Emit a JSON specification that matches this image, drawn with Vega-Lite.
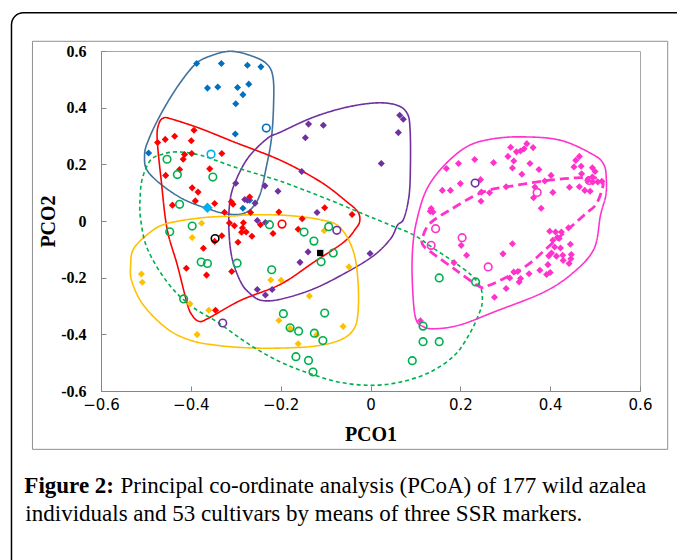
{
  "$schema": "https://vega.github.io/schema/vega-lite/v6.json",
  "width": 539,
  "height": 340,
  "autosize": "none",
  "padding": {"left": 101, "top": 51, "right": 37, "bottom": 169},
  "background": "white",
  "config": {
    "view": {"stroke": "#a6a6a6", "strokeWidth": 1},
    "font": "Liberation Serif"
  },
  "datasets": {
    "pts": [
      {"c":"blue","t":"d","x":-0.387,"y":0.556},{"c":"blue","t":"d","x":-0.332,"y":0.556},{"c":"blue","t":"d","x":-0.274,"y":0.550},{"c":"blue","t":"d","x":-0.244,"y":0.544},{"c":"blue","t":"d","x":-0.363,"y":0.469},{"c":"blue","t":"d","x":-0.340,"y":0.473},{"c":"blue","t":"d","x":-0.296,"y":0.471},{"c":"blue","t":"d","x":-0.271,"y":0.483},{"c":"blue","t":"d","x":-0.284,"y":0.446},{"c":"blue","t":"d","x":-0.300,"y":0.414},{"c":"blue","t":"d","x":-0.301,"y":0.307},{"c":"blue","t":"d","x":-0.494,"y":0.240},{"c":"blue","t":"d","x":-0.284,"y":0.045},{"c":"blue","t":"d","x":-0.269,"y":0.073},
      {"c":"red","t":"d","x":-0.474,"y":0.277},{"c":"red","t":"d","x":-0.457,"y":0.288},{"c":"red","t":"d","x":-0.436,"y":0.299},{"c":"red","t":"d","x":-0.393,"y":0.320},{"c":"red","t":"d","x":-0.399,"y":0.283},{"c":"red","t":"d","x":-0.414,"y":0.235},{"c":"red","t":"d","x":-0.417,"y":0.218},{"c":"red","t":"d","x":-0.398,"y":0.238},{"c":"red","t":"d","x":-0.331,"y":0.238},{"c":"red","t":"d","x":-0.456,"y":0.161},{"c":"red","t":"d","x":-0.425,"y":0.182},{"c":"red","t":"d","x":-0.358,"y":0.184},{"c":"red","t":"d","x":-0.397,"y":0.117},{"c":"red","t":"d","x":-0.384,"y":0.102},{"c":"red","t":"d","x":-0.441,"y":0.056},{"c":"red","t":"d","x":-0.390,"y":0.071},{"c":"red","t":"d","x":-0.347,"y":0.062},{"c":"red","t":"d","x":-0.310,"y":0.068},{"c":"red","t":"d","x":-0.306,"y":0.059},{"c":"red","t":"d","x":-0.269,"y":0.085},{"c":"red","t":"d","x":-0.325,"y":0.031},{"c":"red","t":"d","x":-0.267,"y":0.030},{"c":"red","t":"d","x":-0.204,"y":0.032},{"c":"red","t":"d","x":-0.102,"y":0.047},{"c":"red","t":"d","x":-0.041,"y":0.023},{"c":"red","t":"d","x":-0.152,"y":0.008},{"c":"red","t":"d","x":-0.161,"y":-0.029},{"c":"red","t":"d","x":-0.314,"y":-0.007},{"c":"red","t":"d","x":-0.303,"y":-0.017},{"c":"red","t":"d","x":-0.283,"y":-0.006},{"c":"red","t":"d","x":-0.285,"y":-0.025},{"c":"red","t":"d","x":-0.277,"y":-0.039},{"c":"red","t":"d","x":-0.287,"y":-0.040},{"c":"red","t":"d","x":-0.245,"y":-0.013},{"c":"red","t":"d","x":-0.217,"y":-0.044},{"c":"red","t":"d","x":-0.264,"y":-0.054},{"c":"red","t":"d","x":-0.295,"y":-0.075},{"c":"red","t":"d","x":-0.331,"y":-0.052},{"c":"red","t":"d","x":-0.347,"y":-0.072},{"c":"red","t":"d","x":-0.372,"y":-0.096},{"c":"red","t":"d","x":-0.410,"y":-0.167},{"c":"red","t":"d","x":-0.365,"y":-0.191},{"c":"red","t":"d","x":-0.309,"y":-0.178},{"c":"red","t":"d","x":-0.345,"y":-0.315},
      {"c":"purple","t":"d","x":-0.138,"y":0.342},{"c":"purple","t":"d","x":-0.105,"y":0.338},{"c":"purple","t":"d","x":-0.145,"y":0.294},{"c":"purple","t":"d","x":0.065,"y":0.373},{"c":"purple","t":"d","x":0.073,"y":0.359},{"c":"purple","t":"d","x":0.062,"y":0.312},{"c":"purple","t":"d","x":0.024,"y":0.203},{"c":"purple","t":"d","x":-0.153,"y":0.175},{"c":"purple","t":"d","x":-0.119,"y":0.030},{"c":"purple","t":"d","x":-0.300,"y":0.133},{"c":"purple","t":"d","x":-0.235,"y":0.124},{"c":"purple","t":"d","x":-0.206,"y":0.105},{"c":"purple","t":"d","x":-0.280,"y":0.076},{"c":"purple","t":"d","x":-0.274,"y":0.073},{"c":"purple","t":"d","x":-0.257,"y":0.063},{"c":"purple","t":"d","x":-0.252,"y":0.002},{"c":"purple","t":"d","x":-0.234,"y":-0.005},{"c":"purple","t":"d","x":-0.139,"y":-0.109},{"c":"purple","t":"d","x":-0.157,"y":-0.146},{"c":"purple","t":"d","x":-0.001,"y":-0.115},{"c":"purple","t":"d","x":-0.252,"y":-0.242},{"c":"purple","t":"d","x":-0.234,"y":-0.261},{"c":"purple","t":"d","x":-0.219,"y":-0.242},
      {"c":"orange","t":"d","x":-0.376,"y":-0.008},{"c":"orange","t":"d","x":-0.397,"y":-0.058},{"c":"orange","t":"d","x":-0.510,"y":-0.187},{"c":"orange","t":"d","x":-0.508,"y":-0.216},{"c":"orange","t":"d","x":-0.222,"y":-0.208},{"c":"orange","t":"d","x":-0.199,"y":-0.209},{"c":"orange","t":"d","x":-0.048,"y":-0.162},{"c":"orange","t":"d","x":-0.103,"y":-0.034},{"c":"orange","t":"d","x":-0.136,"y":-0.265},{"c":"orange","t":"d","x":-0.402,"y":-0.292},{"c":"orange","t":"d","x":-0.360,"y":-0.315},{"c":"orange","t":"d","x":-0.204,"y":-0.351},{"c":"orange","t":"d","x":-0.061,"y":-0.372},{"c":"orange","t":"d","x":-0.386,"y":-0.401},{"c":"orange","t":"d","x":-0.179,"y":-0.379},{"c":"orange","t":"d","x":-0.161,"y":-0.433},{"c":"orange","t":"d","x":-0.120,"y":-0.402},
      {"c":"magenta","t":"d","x":0.312,"y":0.260},{"c":"magenta","t":"d","x":0.325,"y":0.244},{"c":"magenta","t":"d","x":0.334,"y":0.247},{"c":"magenta","t":"d","x":0.342,"y":0.255},{"c":"magenta","t":"d","x":0.348,"y":0.273},{"c":"magenta","t":"d","x":0.362,"y":0.259},{"c":"magenta","t":"d","x":0.306,"y":0.228},{"c":"magenta","t":"d","x":0.319,"y":0.212},{"c":"magenta","t":"d","x":0.316,"y":0.187},{"c":"magenta","t":"d","x":0.355,"y":0.203},{"c":"magenta","t":"d","x":0.375,"y":0.182},{"c":"magenta","t":"d","x":0.337,"y":0.165},{"c":"magenta","t":"d","x":0.232,"y":0.217},{"c":"magenta","t":"d","x":0.274,"y":0.206},{"c":"magenta","t":"d","x":0.169,"y":0.185},{"c":"magenta","t":"d","x":0.196,"y":0.203},{"c":"magenta","t":"d","x":0.160,"y":0.108},{"c":"magenta","t":"d","x":0.178,"y":0.108},{"c":"magenta","t":"d","x":0.200,"y":0.132},{"c":"magenta","t":"d","x":0.245,"y":0.146},{"c":"magenta","t":"d","x":0.247,"y":0.102},{"c":"magenta","t":"d","x":0.265,"y":0.100},{"c":"magenta","t":"d","x":0.246,"y":0.070},{"c":"magenta","t":"d","x":0.302,"y":0.121},{"c":"magenta","t":"d","x":0.366,"y":0.120},{"c":"magenta","t":"d","x":0.363,"y":0.082},{"c":"magenta","t":"d","x":0.388,"y":0.141},{"c":"magenta","t":"d","x":0.402,"y":0.161},{"c":"magenta","t":"d","x":0.406,"y":0.101},{"c":"magenta","t":"d","x":0.380,"y":0.045},{"c":"magenta","t":"d","x":0.465,"y":0.228},{"c":"magenta","t":"d","x":0.457,"y":0.214},{"c":"magenta","t":"d","x":0.453,"y":0.191},{"c":"magenta","t":"d","x":0.469,"y":0.193},{"c":"magenta","t":"d","x":0.470,"y":0.167},{"c":"magenta","t":"d","x":0.494,"y":0.188},{"c":"magenta","t":"d","x":0.500,"y":0.175},{"c":"magenta","t":"d","x":0.494,"y":0.155},{"c":"magenta","t":"d","x":0.443,"y":0.119},{"c":"magenta","t":"d","x":0.465,"y":0.121},{"c":"magenta","t":"d","x":0.477,"y":0.108},{"c":"magenta","t":"d","x":0.489,"y":0.105},{"c":"magenta","t":"d","x":0.484,"y":0.144},{"c":"magenta","t":"d","x":0.495,"y":0.138},{"c":"magenta","t":"d","x":0.506,"y":0.138},{"c":"magenta","t":"d","x":0.515,"y":0.140},{"c":"magenta","t":"d","x":0.135,"y":0.044},{"c":"magenta","t":"d","x":0.139,"y":0.032},{"c":"magenta","t":"d","x":0.133,"y":0.034},{"c":"magenta","t":"d","x":0.202,"y":-0.086},{"c":"magenta","t":"d","x":0.214,"y":-0.121},{"c":"magenta","t":"d","x":0.186,"y":-0.147},{"c":"magenta","t":"d","x":0.295,"y":-0.116},{"c":"magenta","t":"d","x":0.316,"y":-0.080},{"c":"magenta","t":"d","x":0.399,"y":-0.036},{"c":"magenta","t":"d","x":0.412,"y":-0.039},{"c":"magenta","t":"d","x":0.425,"y":-0.039},{"c":"magenta","t":"d","x":0.441,"y":-0.024},{"c":"magenta","t":"d","x":0.416,"y":-0.058},{"c":"magenta","t":"d","x":0.406,"y":-0.068},{"c":"magenta","t":"d","x":0.420,"y":-0.062},{"c":"magenta","t":"d","x":0.410,"y":-0.092},{"c":"magenta","t":"d","x":0.423,"y":-0.095},{"c":"magenta","t":"d","x":0.445,"y":-0.082},{"c":"magenta","t":"d","x":0.403,"y":-0.113},{"c":"magenta","t":"d","x":0.414,"y":-0.124},{"c":"magenta","t":"d","x":0.428,"y":-0.121},{"c":"magenta","t":"d","x":0.447,"y":-0.118},{"c":"magenta","t":"d","x":0.429,"y":-0.139},{"c":"magenta","t":"d","x":0.442,"y":-0.150},{"c":"magenta","t":"d","x":0.446,"y":-0.133},{"c":"magenta","t":"d","x":0.397,"y":-0.123},{"c":"magenta","t":"d","x":0.395,"y":-0.154},{"c":"magenta","t":"d","x":0.377,"y":-0.174},{"c":"magenta","t":"d","x":0.392,"y":-0.189},{"c":"magenta","t":"d","x":0.400,"y":-0.182},{"c":"magenta","t":"d","x":0.353,"y":-0.186},{"c":"magenta","t":"d","x":0.319,"y":-0.180},{"c":"magenta","t":"d","x":0.328,"y":-0.178},{"c":"magenta","t":"d","x":0.310,"y":-0.201},{"c":"magenta","t":"d","x":0.334,"y":-0.203},{"c":"magenta","t":"d","x":0.331,"y":-0.215},{"c":"magenta","t":"d","x":0.302,"y":-0.238},{"c":"magenta","t":"d","x":0.276,"y":-0.269},{"c":"magenta","t":"d","x":0.111,"y":-0.352},
      {"c":"lightblue","t":"D","x":-0.363,"y":0.047},
      {"c":"blue","t":"o","x":-0.232,"y":0.328},{"c":"lightblue","t":"o","x":-0.355,"y":0.236},{"c":"red","t":"o","x":-0.197,"y":-0.011},{"c":"purple","t":"o","x":-0.075,"y":-0.033},{"c":"purple","t":"o","x":-0.329,"y":-0.360},{"c":"purple","t":"o","x":0.233,"y":0.134},{"c":"black","t":"o","x":-0.346,"y":-0.062},
      {"c":"magenta","t":"o","x":0.145,"y":-0.027},{"c":"magenta","t":"o","x":0.204,"y":-0.059},{"c":"magenta","t":"o","x":0.135,"y":-0.086},{"c":"magenta","t":"o","x":0.262,"y":-0.162},{"c":"magenta","t":"o","x":0.371,"y":0.101},{"c":"magenta","t":"o","x":0.487,"y":0.143},
      {"c":"green","t":"o","x":-0.453,"y":0.218},{"c":"green","t":"o","x":-0.430,"y":0.164},{"c":"green","t":"o","x":-0.351,"y":0.155},{"c":"green","t":"o","x":-0.425,"y":0.059},{"c":"green","t":"o","x":-0.397,"y":-0.018},{"c":"green","t":"o","x":-0.447,"y":-0.038},{"c":"green","t":"o","x":-0.377,"y":-0.145},{"c":"green","t":"o","x":-0.363,"y":-0.150},{"c":"green","t":"o","x":-0.297,"y":-0.149},{"c":"green","t":"o","x":-0.225,"y":-0.013},{"c":"green","t":"o","x":-0.148,"y":-0.039},{"c":"green","t":"o","x":-0.126,"y":-0.071},{"c":"green","t":"o","x":-0.093,"y":-0.020},{"c":"green","t":"o","x":-0.083,"y":-0.113},{"c":"green","t":"o","x":-0.110,"y":-0.144},{"c":"green","t":"o","x":-0.220,"y":-0.172},{"c":"green","t":"o","x":-0.416,"y":-0.275},{"c":"green","t":"o","x":-0.194,"y":-0.327},{"c":"green","t":"o","x":-0.102,"y":-0.325},{"c":"green","t":"o","x":-0.179,"y":-0.377},{"c":"green","t":"o","x":-0.160,"y":-0.389},{"c":"green","t":"o","x":-0.125,"y":-0.396},{"c":"green","t":"o","x":-0.106,"y":-0.422},{"c":"green","t":"o","x":-0.166,"y":-0.479},{"c":"green","t":"o","x":-0.138,"y":-0.492},{"c":"green","t":"o","x":-0.128,"y":-0.533},{"c":"green","t":"o","x":0.153,"y":-0.201},{"c":"green","t":"o","x":0.117,"y":-0.371},{"c":"green","t":"o","x":0.117,"y":-0.426},{"c":"green","t":"o","x":0.153,"y":-0.426},{"c":"green","t":"o","x":0.093,"y":-0.493},{"c":"green","t":"o","x":0.234,"y":-0.215},
      {"c":"black","t":"s","x":-0.112,"y":-0.113}
    ],
    "curves": [
      {"k":"blue","i":0,"x":-0.312,"y":0.599},{"k":"blue","i":1,"x":-0.269,"y":0.585},{"k":"blue","i":2,"x":-0.232,"y":0.556},{"k":"blue","i":3,"x":-0.217,"y":0.507},{"k":"blue","i":4,"x":-0.216,"y":0.401},{"k":"blue","i":5,"x":-0.221,"y":0.285},{"k":"blue","i":6,"x":-0.232,"y":0.190},{"k":"blue","i":7,"x":-0.245,"y":0.098},{"k":"blue","i":8,"x":-0.262,"y":0.049},{"k":"blue","i":9,"x":-0.284,"y":0.026},{"k":"blue","i":10,"x":-0.314,"y":0.024},{"k":"blue","i":11,"x":-0.352,"y":0.038},{"k":"blue","i":12,"x":-0.425,"y":0.084},{"k":"blue","i":13,"x":-0.492,"y":0.167},{"k":"blue","i":14,"x":-0.503,"y":0.232},{"k":"blue","i":15,"x":-0.492,"y":0.295},{"k":"blue","i":16,"x":-0.462,"y":0.391},{"k":"blue","i":17,"x":-0.425,"y":0.485},{"k":"blue","i":18,"x":-0.388,"y":0.556},{"k":"blue","i":19,"x":-0.352,"y":0.585},
      {"k":"red","i":0,"x":-0.460,"y":0.364},{"k":"red","i":1,"x":-0.441,"y":0.359},{"k":"red","i":2,"x":-0.378,"y":0.326},{"k":"red","i":3,"x":-0.304,"y":0.279},{"k":"red","i":4,"x":-0.200,"y":0.214},{"k":"red","i":5,"x":-0.111,"y":0.138},{"k":"red","i":6,"x":-0.052,"y":0.067},{"k":"red","i":7,"x":-0.028,"y":0.032},{"k":"red","i":8,"x":-0.024,"y":-0.001},{"k":"red","i":9,"x":-0.033,"y":-0.027},{"k":"red","i":10,"x":-0.059,"y":-0.074},{"k":"red","i":11,"x":-0.126,"y":-0.145},{"k":"red","i":12,"x":-0.200,"y":-0.223},{"k":"red","i":13,"x":-0.289,"y":-0.280},{"k":"red","i":14,"x":-0.363,"y":-0.345},{"k":"red","i":15,"x":-0.382,"y":-0.354},{"k":"red","i":16,"x":-0.397,"y":-0.333},{"k":"red","i":17,"x":-0.408,"y":-0.292},{"k":"red","i":18,"x":-0.430,"y":-0.156},{"k":"red","i":19,"x":-0.453,"y":-0.027},{"k":"red","i":20,"x":-0.466,"y":0.144},{"k":"red","i":21,"x":-0.475,"y":0.291},{"k":"red","i":22,"x":-0.471,"y":0.344},
      {"k":"purple","i":0,"x":0.015,"y":0.417},{"k":"purple","i":1,"x":0.060,"y":0.408},{"k":"purple","i":2,"x":0.082,"y":0.379},{"k":"purple","i":3,"x":0.088,"y":0.326},{"k":"purple","i":4,"x":0.089,"y":0.208},{"k":"purple","i":5,"x":0.086,"y":0.091},{"k":"purple","i":6,"x":0.074,"y":0.008},{"k":"purple","i":7,"x":0.060,"y":-0.015},{"k":"purple","i":8,"x":0.045,"y":-0.062},{"k":"purple","i":9,"x":0.008,"y":-0.121},{"k":"purple","i":10,"x":-0.052,"y":-0.180},{"k":"purple","i":11,"x":-0.126,"y":-0.239},{"k":"purple","i":12,"x":-0.200,"y":-0.276},{"k":"purple","i":13,"x":-0.243,"y":-0.280},{"k":"purple","i":14,"x":-0.269,"y":-0.255},{"k":"purple","i":15,"x":-0.289,"y":-0.215},{"k":"purple","i":16,"x":-0.308,"y":-0.133},{"k":"purple","i":17,"x":-0.315,"y":-0.039},{"k":"purple","i":18,"x":-0.314,"y":0.055},{"k":"purple","i":19,"x":-0.304,"y":0.126},{"k":"purple","i":20,"x":-0.274,"y":0.220},{"k":"purple","i":21,"x":-0.230,"y":0.291},{"k":"purple","i":22,"x":-0.200,"y":0.314},{"k":"purple","i":23,"x":-0.126,"y":0.367},{"k":"purple","i":24,"x":-0.052,"y":0.402},
      {"k":"orange","i":0,"x":-0.527,"y":-0.097},{"k":"orange","i":1,"x":-0.490,"y":-0.039},{"k":"orange","i":2,"x":-0.453,"y":-0.009},{"k":"orange","i":3,"x":-0.378,"y":0.011},{"k":"orange","i":4,"x":-0.304,"y":0.018},{"k":"orange","i":5,"x":-0.269,"y":0.022},{"k":"orange","i":6,"x":-0.188,"y":0.020},{"k":"orange","i":7,"x":-0.113,"y":0.005},{"k":"orange","i":8,"x":-0.069,"y":-0.021},{"k":"orange","i":9,"x":-0.039,"y":-0.103},{"k":"orange","i":10,"x":-0.028,"y":-0.209},{"k":"orange","i":11,"x":-0.028,"y":-0.327},{"k":"orange","i":12,"x":-0.039,"y":-0.386},{"k":"orange","i":13,"x":-0.069,"y":-0.421},{"k":"orange","i":14,"x":-0.121,"y":-0.441},{"k":"orange","i":15,"x":-0.188,"y":-0.448},{"k":"orange","i":16,"x":-0.267,"y":-0.448},{"k":"orange","i":17,"x":-0.341,"y":-0.439},{"k":"orange","i":18,"x":-0.401,"y":-0.421},{"k":"orange","i":19,"x":-0.453,"y":-0.380},{"k":"orange","i":20,"x":-0.505,"y":-0.298},{"k":"orange","i":21,"x":-0.531,"y":-0.215},{"k":"orange","i":22,"x":-0.534,"y":-0.156},
      {"k":"green","i":0,"x":-0.430,"y":0.244},{"k":"green","i":1,"x":-0.378,"y":0.232},{"k":"green","i":2,"x":-0.304,"y":0.191},{"k":"green","i":3,"x":-0.200,"y":0.140},{"k":"green","i":4,"x":-0.089,"y":0.073},{"k":"green","i":5,"x":-0.015,"y":0.024},{"k":"green","i":6,"x":0.045,"y":-0.015},{"k":"green","i":7,"x":0.097,"y":-0.050},{"k":"green","i":8,"x":0.141,"y":-0.097},{"k":"green","i":9,"x":0.186,"y":-0.145},{"k":"green","i":10,"x":0.225,"y":-0.192},{"k":"green","i":11,"x":0.245,"y":-0.234},{"k":"green","i":12,"x":0.249,"y":-0.280},{"k":"green","i":13,"x":0.243,"y":-0.322},{"k":"green","i":14,"x":0.221,"y":-0.397},{"k":"green","i":15,"x":0.187,"y":-0.474},{"k":"green","i":16,"x":0.132,"y":-0.534},{"k":"green","i":17,"x":0.065,"y":-0.569},{"k":"green","i":18,"x":0.000,"y":-0.580},{"k":"green","i":19,"x":-0.069,"y":-0.569},{"k":"green","i":20,"x":-0.136,"y":-0.538},{"k":"green","i":21,"x":-0.200,"y":-0.498},{"k":"green","i":22,"x":-0.267,"y":-0.439},{"k":"green","i":23,"x":-0.341,"y":-0.357},{"k":"green","i":24,"x":-0.401,"y":-0.298},{"k":"green","i":25,"x":-0.453,"y":-0.215},{"k":"green","i":26,"x":-0.497,"y":-0.097},{"k":"green","i":27,"x":-0.512,"y":0.010},{"k":"green","i":28,"x":-0.513,"y":0.080},{"k":"green","i":29,"x":-0.508,"y":0.150},{"k":"green","i":30,"x":-0.490,"y":0.214},{"k":"green","i":31,"x":-0.465,"y":0.235},
      {"k":"magenta","i":0,"x":0.334,"y":0.297},{"k":"magenta","i":1,"x":0.423,"y":0.285},{"k":"magenta","i":2,"x":0.498,"y":0.232},{"k":"magenta","i":3,"x":0.520,"y":0.197},{"k":"magenta","i":4,"x":0.525,"y":0.150},{"k":"magenta","i":5,"x":0.524,"y":0.091},{"k":"magenta","i":6,"x":0.512,"y":0.020},{"k":"magenta","i":7,"x":0.498,"y":-0.097},{"k":"magenta","i":8,"x":0.453,"y":-0.180},{"k":"magenta","i":9,"x":0.386,"y":-0.251},{"k":"magenta","i":10,"x":0.275,"y":-0.321},{"k":"magenta","i":11,"x":0.201,"y":-0.366},{"k":"magenta","i":12,"x":0.149,"y":-0.380},{"k":"magenta","i":13,"x":0.119,"y":-0.374},{"k":"magenta","i":14,"x":0.100,"y":-0.340},{"k":"magenta","i":15,"x":0.093,"y":-0.209},{"k":"magenta","i":16,"x":0.094,"y":-0.093},{"k":"magenta","i":17,"x":0.103,"y":0.002},{"k":"magenta","i":18,"x":0.124,"y":0.108},{"k":"magenta","i":19,"x":0.161,"y":0.191},{"k":"magenta","i":20,"x":0.213,"y":0.261},{"k":"magenta","i":21,"x":0.265,"y":0.288},
      {"k":"magentaDash","i":0,"x":0.116,"y":-0.058},{"k":"magentaDash","i":1,"x":0.132,"y":-0.009},{"k":"magentaDash","i":2,"x":0.176,"y":0.038},{"k":"magentaDash","i":3,"x":0.250,"y":0.102},{"k":"magentaDash","i":4,"x":0.325,"y":0.126},{"k":"magentaDash","i":5,"x":0.399,"y":0.144},{"k":"magentaDash","i":6,"x":0.466,"y":0.153},{"k":"magentaDash","i":7,"x":0.503,"y":0.151},{"k":"magentaDash","i":8,"x":0.518,"y":0.132},{"k":"magentaDash","i":9,"x":0.503,"y":0.061},{"k":"magentaDash","i":10,"x":0.475,"y":0.020},{"k":"magentaDash","i":11,"x":0.408,"y":-0.074},{"k":"magentaDash","i":12,"x":0.349,"y":-0.156},{"k":"magentaDash","i":13,"x":0.297,"y":-0.203},{"k":"magentaDash","i":14,"x":0.260,"y":-0.229},{"k":"magentaDash","i":15,"x":0.243,"y":-0.232},{"k":"magentaDash","i":16,"x":0.191,"y":-0.174},{"k":"magentaDash","i":17,"x":0.139,"y":-0.115},{"k":"magentaDash","i":18,"x":0.117,"y":-0.086}
    ]
  },
  "encoding": {
    "x": {"field": "x", "type": "quantitative", "scale": {"domain": [-0.6, 0.6], "nice": false, "zero": false},
      "axis": {"title": "PCO1", "values": [-0.6, -0.4, -0.2, 0, 0.2, 0.4, 0.6], "format": "~g", "grid": false, "labelFlush": false, "labelOverlap": false,
        "labelFont": "DejaVu Sans", "labelFontSize": 15, "labelColor": "#000000", "labelPadding": 11,
        "tickSize": -5, "tickColor": "#868686", "domainColor": "#868686",
        "titleFont": "Liberation Serif", "titleFontSize": 20, "titleFontWeight": "bold", "titleColor": "#000000",
        "titleX": 269.5, "titleY": 43, "titleBaseline": "middle", "titleAlign": "center"}},
    "y": {"field": "y", "type": "quantitative", "scale": {"domain": [-0.6, 0.6], "nice": false, "zero": false},
      "axis": {"title": "PCO2", "values": [-0.6, -0.4, -0.2, 0, 0.2, 0.4, 0.6], "format": "~g", "grid": false, "labelFlush": false, "labelOverlap": false,
        "labelExpr": "replace(datum.label, '\u2212', '-')",
        "labelFont": "Liberation Serif", "labelFontSize": 16, "labelFontWeight": "bold", "labelColor": "#000000", "labelPadding": 20,
        "tickSize": -5, "tickColor": "#868686", "domainColor": "#868686",
        "titleFont": "Liberation Serif", "titleFontSize": 20, "titleFontWeight": "bold", "titleColor": "#000000",
        "titleX": -53, "titleY": 170, "titleBaseline": "middle", "titleAlign": "center", "titleAngle": -90}}
  },
  "layer": [
    {
      "data": {"values": [{"x": -0.7993, "x2": 0.74, "y": 0.7349, "y2": -1.35}]},
      "mark": {"type": "rect", "fill": null, "stroke": "#000000", "strokeWidth": 1.5, "cornerRadius": 12},
      "encoding": {"x2": {"field": "x2"}, "y2": {"field": "y2"}}
    },
    {
      "data": {"values": [{"x": -0.7526, "x2": 0.6617, "y": 0.6343, "y2": -0.8059}]},
      "mark": {"type": "rect", "fill": null, "stroke": "#8f8f8f", "strokeWidth": 1},
      "encoding": {"x2": {"field": "x2"}, "y2": {"field": "y2"}}
    },
    {
      "data": {"name": "curves"},
      "transform": [{"filter": "datum.k != 'magentaDash'"}],
      "mark": {"type": "line", "interpolate": "cardinal-closed", "strokeWidth": 1.6},
      "encoding": {
        "order": {"field": "i", "type": "quantitative"},
        "stroke": {"field": "k", "type": "nominal", "legend": null,
          "scale": {"domain": ["blue", "red", "purple", "orange", "green", "magenta", "magentaDash"],
                    "range": ["#41719C", "#FF0000", "#7030A0", "#FFC000", "#00B050", "#FF33CC", "#FF33CC"]}},
        "strokeDash": {"field": "k", "type": "nominal", "legend": null,
          "scale": {"domain": ["blue", "red", "purple", "orange", "green", "magenta"],
                    "range": [[1, 0], [1, 0], [1, 0], [1, 0], [4, 3], [1, 0]]}}
      }
    },
    {
      "data": {"name": "curves"},
      "transform": [{"filter": "datum.k == 'magentaDash'"}],
      "mark": {"type": "line", "interpolate": "cardinal-closed", "strokeWidth": 2.8, "strokeDash": [9, 5]},
      "encoding": {
        "order": {"field": "i", "type": "quantitative"},
        "stroke": {"field": "k", "type": "nominal", "legend": null}
      }
    },
    {
      "data": {"name": "pts"},
      "transform": [{"filter": "datum.t == 'd'"}],
      "mark": {"type": "point", "shape": "diamond", "filled": true, "size": 50, "opacity": 1},
      "encoding": {
        "color": {"field": "c", "type": "nominal", "legend": null,
          "scale": {"domain": ["blue", "red", "purple", "orange", "magenta", "lightblue", "green", "black"],
                    "range": ["#0070C0", "#FF0000", "#7030A0", "#FFC000", "#FF33CC", "#00B0F0", "#00B050", "#000000"]}}
      }
    },
    {
      "data": {"name": "pts"},
      "transform": [{"filter": "datum.t == 'D'"}],
      "mark": {"type": "point", "shape": "diamond", "filled": true, "size": 110, "opacity": 1},
      "encoding": {"color": {"field": "c", "type": "nominal", "legend": null}}
    },
    {
      "data": {"name": "pts"},
      "transform": [{"filter": "datum.t == 'o'"}],
      "mark": {"type": "point", "shape": "circle", "filled": false, "size": 58, "strokeWidth": 1.6, "opacity": 1},
      "encoding": {"color": {"field": "c", "type": "nominal", "legend": null}}
    },
    {
      "data": {"name": "pts"},
      "transform": [{"filter": "datum.t == 's'"}],
      "mark": {"type": "point", "shape": "square", "filled": true, "size": 40, "opacity": 1},
      "encoding": {"color": {"field": "c", "type": "nominal", "legend": null}}
    },
    {
      "data": {"values": [{"x": -0.7706, "y": -0.9365, "txt": "Figure 2:"}]},
      "mark": {"type": "text", "align": "left", "baseline": "middle", "font": "Liberation Serif", "fontWeight": "bold", "fontSize": 23, "color": "#000000"},
      "encoding": {"text": {"field": "txt"}}
    },
    {
      "data": {"values": [{"x": -0.5566, "y": -0.9365, "txt": "Principal co-ordinate analysis (PCoA) of 177 wild azalea"}, {"x": -0.7684, "y": -1.0353, "txt": "individuals and 53 cultivars by means of three SSR markers."}]},
      "mark": {"type": "text", "align": "left", "baseline": "middle", "font": "Liberation Serif", "fontSize": 23, "color": "#000000"},
      "encoding": {"text": {"field": "txt"}}
    }
  ]
}
